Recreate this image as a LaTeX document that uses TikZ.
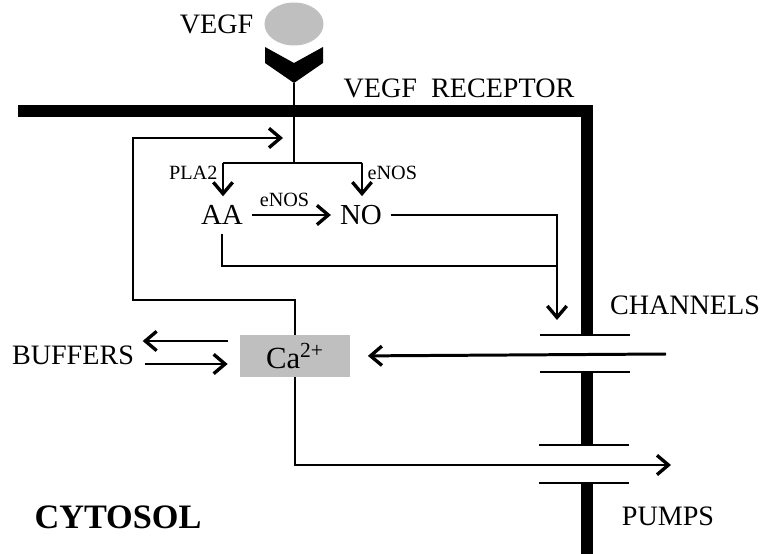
\documentclass[tikz,border=0pt]{standalone}
\usepackage{fontspec}
\setmainfont{Liberation Serif}
\usepackage{tikz}
\usetikzlibrary{positioning, arrows.meta, shapes.geometric, calc}

\begin{document}
\begin{tikzpicture}[
  x=0.02cm, y=-0.02cm,
  lbl/.style={font=\fontsize{16}{19}\selectfont, inner sep=0pt},
  sml/.style={font=\fontsize{11.5}{13}\selectfont, inner sep=0pt},
  mol/.style={font=\fontsize{16.5}{19}\selectfont, inner sep=5pt},
  arr/.style={-{Straight Barb[length=6.5pt, width=11pt, line width=1.9pt]}, line width=1.7pt},
  thin/.style={line width=1.7pt},
  memb/.style={line width=6.6pt, line join=miter},
  plate/.style={line width=1.7pt}
]
  \useasboundingbox (0,0) rectangle (765,554);

  % ligand and receptor
  \node[ellipse, fill=gray!50, minimum width=1.18cm, minimum height=0.86cm, inner sep=0pt] (vegf) at (294,24) {};
  \node[lbl, left=6pt of vegf] (vegflbl) {VEGF};
  \fill (265,47) -- (294,63) -- (323,47) -- (323,63) -- (294,83) -- (265,63) -- cycle;
  \coordinate (rec) at (294,83);
  \node[lbl] (reclbl) at (459,88) {VEGF\ \ RECEPTOR};

  % membrane
  \draw[memb] (18,111) -- (587,111) -- (587,335);
  \draw[memb] (587,372) -- (587,445);
  \draw[memb] (587,483) -- (587,554);
  \draw[plate] (540,335) -- (630,335);
  \draw[plate] (540,372) -- (630,372);
  \draw[plate] (539,445) -- (629,445);
  \draw[plate] (539,483) -- (629,483);
  \node[lbl] (chlbl) at (685,305) {CHANNELS};
  \node[lbl] (pmplbl) at (668,516) {PUMPS};
  \node[lbl, font=\fontsize{19.5}{22}\selectfont\bfseries] (cyto) at (118,517) {CYTOSOL};

  % signalling
  \coordinate (br) at (294,163);
  \coordinate (brl) at (223,163);
  \coordinate (brr) at (362,163);
  \node[mol] (aa) at (222,215) {AA};
  \node[mol] (no) at (361,215) {NO};
  \node[fill=gray!50, minimum width=2.2cm, minimum height=0.84cm, font=\fontsize{17.5}{20}\selectfont] (ca) at (295,356) {Ca\textsuperscript{2+}};

  \draw[thin] (rec) -- (br);
  \draw[thin] (brl) -- (brr);
  \draw[arr] (brl) -- (brl |- aa.north);
  \draw[arr] (brr) -- (brr |- no.north);
  \node[sml, left=3pt of brl, yshift=-0.2cm] (pla) {PLA2};
  \node[sml, right=3pt of brr, yshift=-0.2cm] (enos1) {eNOS};
  \draw[arr] (aa.east) -- node[sml, above=4pt, xshift=-4pt] (enos2) {eNOS} (no.west);

  \coordinate (chtop) at (557,320);
  \draw[arr] (no.east) -| (chtop);
  \draw[thin] (aa.south) |- (chtop |- 0,266);

  % calcium fluxes
  \coordinate (fbl) at (133,300);
  \coordinate (fbend) at (283,138);
  \draw[arr] (ca.north) |- (fbl) |- (fbend);

  \node[lbl] (buf) at (73,355) {BUFFERS};
  \draw[arr] ($(ca.west)+(-12,-15)$) -- ($(ca.west)+(-97,-15)$);
  \draw[arr] ($(ca.west)+(-95,8)$) -- ($(ca.west)+(-12,8)$);

  \coordinate (chin) at (666,354);
  \draw[arr, shorten >=10pt] (chin) -- (ca.east);
  \coordinate (pmpout) at (671,465);
  \draw[arr] (ca.south) |- (pmpout);
\end{tikzpicture}
\end{document}
